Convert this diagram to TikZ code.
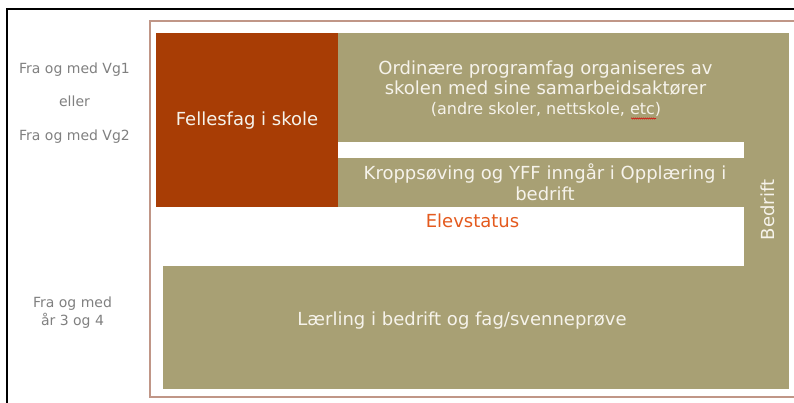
\documentclass[tikz,border=0pt]{standalone}
\usepackage{fontspec}
\setmainfont{DejaVu Sans}
\usetikzlibrary{decorations.pathmorphing}
\definecolor{oliveBox}{RGB}{168,160,116}
\definecolor{brownBox}{RGB}{168,61,5}
\definecolor{elevOrange}{RGB}{228,90,30}
\definecolor{grayText}{RGB}{128,128,128}
\definecolor{creamText}{RGB}{246,243,235}
\definecolor{frameBrown}{RGB}{192,150,135}
\begin{document}
\begin{tikzpicture}[x=1pt,y=-1pt,
  box/.style={anchor=north west, inner sep=0pt, outer sep=0pt, draw=none},
  wtxt/.style={anchor=base, inner sep=0pt, text=creamText, font=\fontsize{18}{21}\selectfont},
  gtxt/.style={anchor=base, inner sep=0pt, text=grayText, font=\fontsize{14}{17}\selectfont}]
\useasboundingbox (0,0) rectangle (794,403);
\fill[white] (0,0) rectangle (794,403);
% frames
\draw[line width=2pt] (794,9) -| (7,404);
\draw[frameBrown, line width=1.2pt] (795,21) -| (150,397) -- (795,397);
% boxes
\node[box, fill=oliveBox, minimum width=45pt, minimum height=356pt] (bedrift) at (744,33) {};
\node[box, fill=oliveBox, minimum width=406pt, minimum height=109pt] (ord) at (338,33) {};
\node[box, fill=oliveBox, minimum width=406pt, minimum height=49pt] (kropp) at (338,158) {};
\node[box, fill=oliveBox, minimum width=581pt, minimum height=123pt] (laer) at (163,266) {};
\node[box, fill=brownBox, minimum width=182pt, minimum height=174pt] (felles) at (156,33) {};
% texts in boxes
\node[wtxt] (fellesT) at (247,126) {Fellesfag i skole};
\node[wtxt] (ordT1) at (545.5,74.5) {Ordinære programfag organiseres av};
\node[wtxt] (ordT2) at (545.5,94.5) {skolen med sine samarbeidsaktører};
\node[wtxt, font=\fontsize{16}{19}\selectfont] (ordT3) at (546,114.5) {(andre skoler, nettskole, etc)};
\node[wtxt] (kroppT1) at (545,180) {Kroppsøving og YFF inngår i Opplæring i};
\node[wtxt] (kroppT2) at (545,201) {bedrift};
\node[wtxt, text=elevOrange] (elev) at (472.5,227) {Elevstatus};
\node[wtxt] (laerT) at (462,325) {Lærling i bedrift og fag/svenneprøve};
\node[wtxt, rotate=90] (bedriftT) at (774,210) {Bedrift};
% spell-check squiggle under etc
\draw[red!85!black, line width=0.5pt, decorate, decoration={snake, segment length=2pt, amplitude=0.6pt}] (631,118.5) -- (656,118.5);
% left labels
\node[gtxt] (vg1) at (74.5,74) {Fra og med Vg1};
\node[gtxt] (eller) at (74.5,107) {eller};
\node[gtxt] (vg2) at (74.5,140.5) {Fra og med Vg2};
\node[gtxt] (aar1) at (72.5,307.5) {Fra og med};
\node[gtxt] (aar2) at (72.5,325) {år 3 og 4};
\end{tikzpicture}
\end{document}
